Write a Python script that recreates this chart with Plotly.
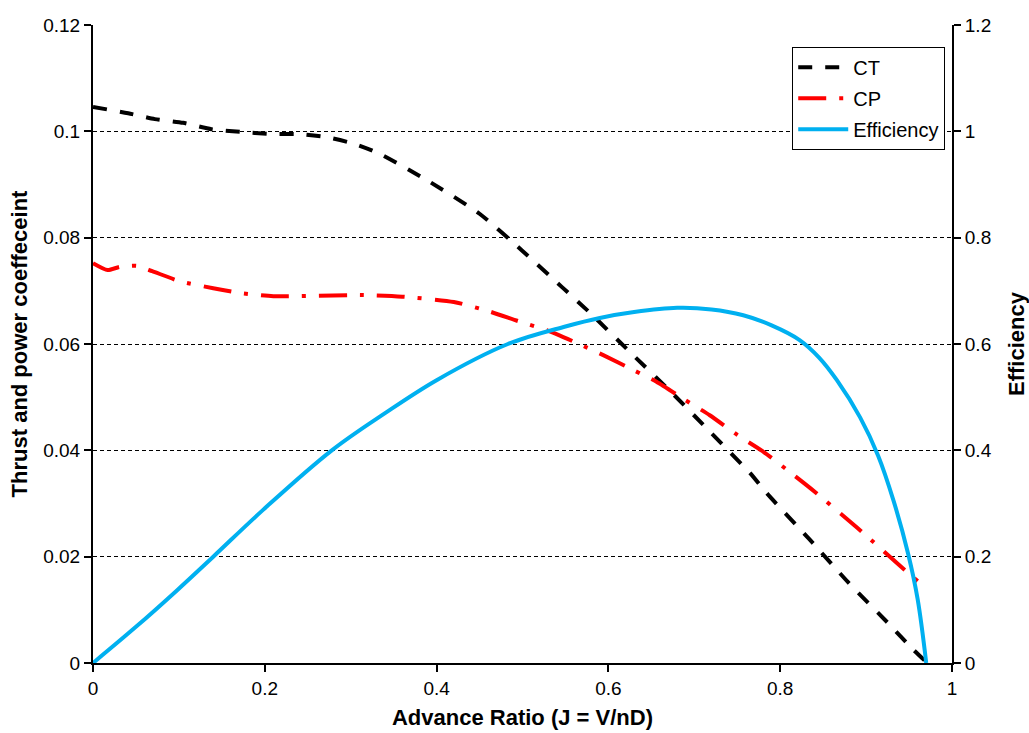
import plotly.graph_objects as go

# Thrust coefficient CT vs advance ratio J
ct_j = [0.0, 0.041, 0.072, 0.105, 0.138, 0.171, 0.206, 0.239, 0.272, 0.305, 0.332,
        0.392, 0.45, 0.5, 0.546, 0.579, 0.625, 0.674, 0.72, 0.765, 0.784, 0.835,
        0.879, 0.928, 0.953, 0.968]
ct = [0.1046, 0.1034, 0.1023, 0.1016, 0.1004, 0.0999, 0.0995, 0.0995, 0.0989, 0.0976,
      0.0959, 0.0905, 0.0845, 0.0775, 0.0707, 0.0658, 0.0585, 0.0508, 0.0432, 0.0357,
      0.0320, 0.0231, 0.0152, 0.0071, 0.0028, 0.0005]

# Power coefficient CP vs advance ratio J
cp_j = [0.0, 0.017, 0.031, 0.051, 0.069, 0.101, 0.14, 0.171, 0.21, 0.314, 0.36, 0.42,
        0.46, 0.495, 0.528, 0.563, 0.594, 0.629, 0.656, 0.689, 0.718, 0.75, 0.779,
        0.809, 0.835, 0.89, 0.945, 0.96]
cp = [0.0752, 0.0739, 0.0745, 0.0747, 0.0737, 0.0718, 0.0705, 0.0696, 0.0690, 0.0692,
      0.0689, 0.0679, 0.0662, 0.0643, 0.0626, 0.0602, 0.0579, 0.0551, 0.0529, 0.0495,
      0.0466, 0.0429, 0.0399, 0.0362, 0.0329, 0.0254, 0.0175, 0.0154]

# Propeller efficiency vs advance ratio J
eff_j = [0.0, 0.05, 0.098, 0.14, 0.198, 0.278, 0.34, 0.4, 0.483, 0.55, 0.59, 0.63,
         0.68, 0.72, 0.757, 0.79, 0.823, 0.845, 0.866, 0.893, 0.914, 0.932, 0.949,
         0.96, 0.97]
eff = [0.0, 0.068, 0.137, 0.2, 0.288, 0.4, 0.47, 0.532, 0.6, 0.633, 0.649, 0.66,
       0.668, 0.665, 0.654, 0.635, 0.607, 0.575, 0.532, 0.462, 0.39, 0.305, 0.205,
       0.12, 0.0]

x_ticks = [0, 0.2, 0.4, 0.6, 0.8, 1]
x_tick_text = ["0", "0.2", "0.4", "0.6", "0.8", "1"]
y_ticks = [0, 0.02, 0.04, 0.06, 0.08, 0.1, 0.12]
y_tick_text = ["0", "0.02", "0.04", "0.06", "0.08", "0.1", "0.12"]
y2_ticks = [0, 0.2, 0.4, 0.6, 0.8, 1.0, 1.2]
y2_tick_text = ["0", "0.2", "0.4", "0.6", "0.8", "1", "1.2"]

FONT = "Liberation Sans, Arial, sans-serif"
TITLE_FONT = dict(size=22, weight="bold")

fig = go.Figure()
fig.add_trace(go.Scatter(
    x=ct_j, y=ct, name="CT", mode="lines", legendgroup="ct",
    line=dict(color="black", width=4, dash="14px,13px", shape="spline", smoothing=0.6),
))
fig.add_trace(go.Scatter(
    x=cp_j, y=cp, name="CP", mode="lines", legendgroup="cp",
    line=dict(color="#ff0000", width=4, dash="28px,13px,4px,13px", shape="spline", smoothing=0.6),
))
fig.add_trace(go.Scatter(
    x=eff_j, y=eff, name="Efficiency", mode="lines", yaxis="y2", legendgroup="eff",
    line=dict(color="#00b0f0", width=4, shape="spline", smoothing=1.0),
))

fig.update_layout(
    width=1029, height=733,
    margin=dict(l=93, r=77, t=25, b=70),
    paper_bgcolor="white", plot_bgcolor="white",
    font=dict(family=FONT, size=19, color="black"),
    showlegend=True,
    legend=dict(
        x=0.814, y=0.966, xanchor="left", yanchor="top",
        bgcolor="white", bordercolor="black", borderwidth=1,
        font=dict(size=20), tracegroupgap=2, traceorder="grouped",
        itemwidth=50,
    ),
    xaxis=dict(
        range=[0, 1], tickvals=x_ticks, ticktext=x_tick_text,
        showgrid=False, zeroline=False, automargin=False,
        showline=True, linecolor="black", linewidth=2,
        ticks="outside", ticklen=7, tickwidth=2, tickcolor="black",
        title=dict(text="Advance Ratio (J = V/nD)", font=TITLE_FONT, standoff=12),
    ),
    yaxis=dict(
        range=[0, 0.12], tickvals=y_ticks, ticktext=y_tick_text,
        showgrid=True, gridcolor="black", gridwidth=1, griddash="4px,3px",
        zeroline=False, automargin=False,
        showline=True, linecolor="black", linewidth=2,
        ticks="outside", ticklen=7, tickwidth=2, tickcolor="black",
        title=dict(text="Thrust and power coeffeceint", font=TITLE_FONT, standoff=10),
    ),
    yaxis2=dict(
        range=[0, 1.2], tickvals=y2_ticks, ticktext=y2_tick_text,
        overlaying="y", side="right", showgrid=False, zeroline=False, automargin=False,
        showline=True, linecolor="black", linewidth=2,
        ticks="outside", ticklen=7, tickwidth=2, tickcolor="black",
        title=dict(text="Efficiency", font=TITLE_FONT, standoff=18),
    ),
)

fig.write_html("out.html")
